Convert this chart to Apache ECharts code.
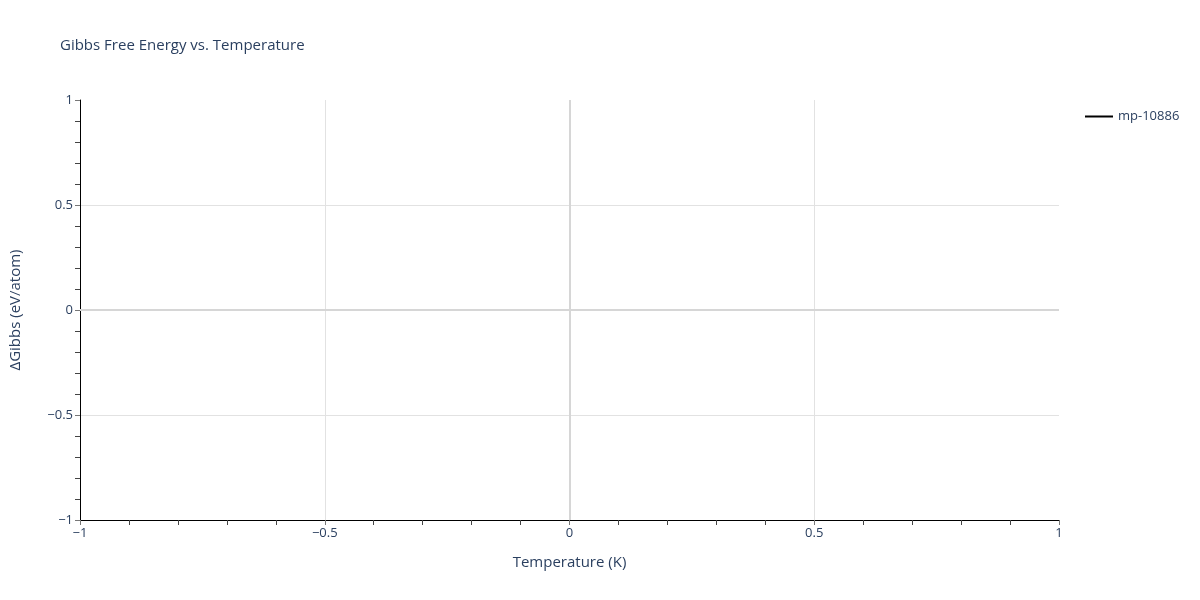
<!DOCTYPE html>
<html>
<head>
<meta charset="utf-8">
<script src="https://cdn.jsdelivr.net/npm/echarts@6/dist/echarts.min.js"></script>
<style>
  html, body { margin: 0; padding: 0; background: #fff; }
  #chart { width: 1200px; height: 600px; }
</style>
</head>
<body>
<div id="chart"></div>
<script>
// the source chart has a legend entry but no plotted points
let seriesName = 'mp-10886';
let temperatures = [];   // K
let gibbs = [];          // eV/atom
let xTicks = [-1, -0.5, 0, 0.5, 1];
let yTicks = [-1, -0.5, 0, 0.5, 1];

let textColor = '#2a3f5f';
let fontFamily = '"Open Sans", verdana, arial, sans-serif';

function fmt(v) {//plotly style minus sign
    return String(v).replace('-', '\u2212');
}

let points = [];
for (let i = 0; i < temperatures.length; i++) {
    points.push([temperatures[i], gibbs[i]]);
}

let myChart = echarts.init(document.getElementById('chart'));
let option = {
    backgroundColor: '#fff',
    animation: false,
    textStyle: {fontFamily: fontFamily},
    title: {
        text: 'Gibbs Free Energy vs. Temperature',
        left: 55,
        top: 33,
        textStyle: {fontSize: 15, fontWeight: 'normal', color: textColor, fontFamily: fontFamily}
    },
    legend: {
        data: [seriesName],
        left: 1080,
        top: 105,
        icon: 'rect',
        itemWidth: 28,
        itemHeight: 2,
        itemGap: 6,
        textStyle: {fontSize: 13, color: textColor, fontFamily: fontFamily}
    },
    grid: {left: 79, right: 141, top: 100, bottom: 80},
    xAxis: {
        type: 'value',
        min: xTicks[0],
        max: xTicks[xTicks.length - 1],
        interval: 0.5,
        name: 'Temperature (K)',
        nameLocation: 'middle',
        nameGap: 35,
        nameTextStyle: {fontSize: 15, color: textColor},
        axisLine: {show: true, onZero: false, lineStyle: {color: '#000', width: 1}},
        axisTick: {show: true, length: 5, lineStyle: {color: '#777'}},
        minorTick: {show: true, splitNumber: 5, length: 5, lineStyle: {color: '#444'}},
        axisLabel: {fontSize: 13, color: textColor, margin: 7, formatter: fmt},
        splitLine: {show: true, showMinLine: false, showMaxLine: false, lineStyle: {color: '#e2e2e2', width: 1}}
    },
    yAxis: {
        type: 'value',
        min: yTicks[0],
        max: yTicks[yTicks.length - 1],
        interval: 0.5,
        name: '\u0394Gibbs (eV/atom)',
        nameLocation: 'middle',
        nameGap: 57,
        nameTextStyle: {fontSize: 15, color: textColor},
        axisLine: {show: true, onZero: false, lineStyle: {color: '#000', width: 1}},
        axisTick: {show: true, length: 5, lineStyle: {color: '#777'}},
        minorTick: {show: true, splitNumber: 5, length: 5, lineStyle: {color: '#444'}},
        axisLabel: {fontSize: 13, color: textColor, margin: 7, formatter: fmt},
        splitLine: {show: true, showMinLine: false, showMaxLine: false, lineStyle: {color: '#e2e2e2', width: 1}}
    },
    series: [{
        name: seriesName,
        type: 'line',
        color: '#000',
        showSymbol: false,
        lineStyle: {color: '#000', width: 2},
        data: points,
        markLine: {
            silent: true,
            symbol: 'none',
            label: {show: false},
            lineStyle: {color: '#d6d6d6', width: 2, type: 'solid'},
            data: [{xAxis: 0}, {yAxis: 0}]
        }
    }]
};
myChart.setOption(option);
</script>
</body>
</html>
